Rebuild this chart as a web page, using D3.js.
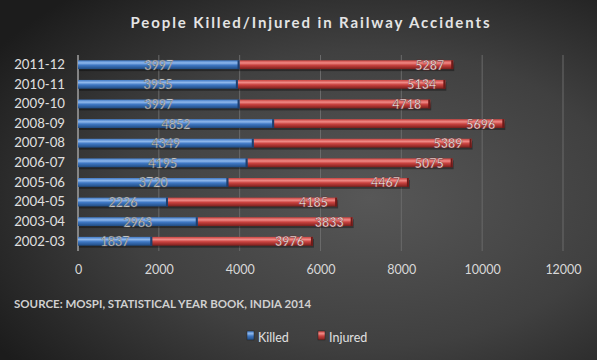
<!DOCTYPE html>
<html><head><meta charset="utf-8">
<script src="https://cdn.jsdelivr.net/npm/d3@7"></script>
<style>html,body{margin:0;padding:0;background:#333;}svg{display:block;}</style>
</head><body>
<script>
const categories = ["2002-03","2003-04","2004-05","2005-06","2006-07","2007-08","2008-09","2009-10","2010-11","2011-12"];
const killed = [1837,2963,2226,3720,4195,4349,4852,3997,3955,3997];
const injured = [3976,3833,4185,4467,5075,5389,5696,4718,5134,5287];
const xTicks = [0,2000,4000,6000,8000,10000,12000];
const seriesNames = ["Killed","Injured"];

const W=597,H=360;
const svg=d3.select("body").append("svg").attr("width",W).attr("height",H);
const defs=svg.append("defs");
const bg=defs.append("radialGradient").attr("id","bg").attr("cx","0.62").attr("cy","0.55").attr("r","0.75");
bg.append("stop").attr("offset","0").attr("stop-color","#575757");
bg.append("stop").attr("offset","0.55").attr("stop-color","#404040");
bg.append("stop").attr("offset","1").attr("stop-color","#1c1c1c");
svg.append("rect").attr("width",W).attr("height",H).attr("fill","url(#bg)");

function cyl(id,dark,mid,light){
  const g=defs.append("linearGradient").attr("id",id).attr("x1",0).attr("y1",0).attr("x2",0).attr("y2",1);
  g.append("stop").attr("offset","0").attr("stop-color",mid);
  g.append("stop").attr("offset","0.3").attr("stop-color",light);
  g.append("stop").attr("offset","0.55").attr("stop-color",mid);
  g.append("stop").attr("offset","1").attr("stop-color",dark);
}
cyl("gk","#1f4a80","#3f78c4","#8fb8ec");
cyl("gi","#7a1f1c","#c9423f","#f08a86");

const x=d3.scaleLinear().domain([0,12000]).range([78,563]);
const y=d3.scaleBand().domain(categories.slice().reverse()).range([55,251]).paddingInner(0.55).paddingOuter(0.27);

svg.append("g").selectAll("line").data(xTicks.slice(1)).join("line")
  .attr("x1",d=>x(d)).attr("x2",d=>x(d)).attr("y1",55).attr("y2",251)
  .attr("stroke","#6a6a6a").attr("stroke-width",1);
svg.append("line").attr("x1",x(0)).attr("x2",x(0)).attr("y1",55).attr("y2",251).attr("stroke","#a0a0a0").attr("stroke-width",1.5);

const font="Lato, 'Open Sans', sans-serif";
const xAxis=d3.axisBottom(x).tickValues(xTicks).tickSize(0).tickFormat(d3.format("d"));
const gx=svg.append("g").attr("transform","translate(0,260)").call(xAxis);
gx.select(".domain").remove();
gx.selectAll("text").attr("fill","#d8d8d8").attr("font-family",font).attr("font-size",12.5).attr("dy","0.9em");

const yAxis=d3.axisLeft(y).tickSize(0).tickPadding(13);
const gy=svg.append("g").attr("transform",`translate(${x(0)},0)`).call(yAxis);
gy.select(".domain").remove();
gy.selectAll("text").attr("fill","#e0e0e0").attr("font-family",font).attr("font-size",13.2);

const rows=categories.map((c,i)=>({c,k:killed[i],inj:injured[i]}));
const bh=y.bandwidth();
const g=svg.append("g");
g.selectAll("rect.sh").data(rows).join("rect").attr("class","sh")
  .attr("x",x(0)+1).attr("y",d=>y(d.c)+2).attr("width",d=>x(d.k+d.inj)-x(0)).attr("height",bh)
  .attr("fill","#000").attr("opacity",0.35);
g.selectAll("rect.k").data(rows).join("rect").attr("class","k")
  .attr("x",x(0)).attr("y",d=>y(d.c)).attr("width",d=>x(d.k)-x(0)).attr("height",bh)
  .attr("fill","url(#gk)");
g.selectAll("rect.i").data(rows).join("rect").attr("class","i")
  .attr("x",d=>x(d.k)).attr("y",d=>y(d.c)).attr("width",d=>x(d.k+d.inj)-x(d.k)).attr("height",bh)
  .attr("fill","url(#gi)");
g.selectAll("rect.ck").data(rows).join("rect").attr("class","ck")
  .attr("x",d=>x(d.k)-2).attr("y",d=>y(d.c)).attr("width",2).attr("height",bh).attr("fill","#1d3f6e");
g.selectAll("rect.ci").data(rows).join("rect").attr("class","ci")
  .attr("x",d=>x(d.k+d.inj)-2).attr("y",d=>y(d.c)).attr("width",2).attr("height",bh).attr("fill","#6e1a18");

g.selectAll("text.lk").data(rows).join("text").attr("class","lk")
  .attr("x",d=>(x(0)+x(d.k))/2).attr("y",d=>y(d.c)+bh/2).attr("dy","0.4em")
  .attr("text-anchor","middle").attr("font-family",font).attr("font-size",12.5)
  .attr("fill","#e8e8e8").attr("stroke","#555").attr("stroke-width",0.4).text(d=>d.k);
g.selectAll("text.li").data(rows).join("text").attr("class","li")
  .attr("x",d=>x(d.k+d.inj)-9).attr("y",d=>y(d.c)+bh/2).attr("dy","0.4em")
  .attr("text-anchor","end").attr("font-family",font).attr("font-size",12.5).attr("font-weight","bold")
  .attr("fill","#f0e0e0").attr("stroke","#6a2020").attr("stroke-width",0.4).text(d=>d.inj);

svg.append("text").attr("x",311).attr("y",28).attr("text-anchor","middle")
  .attr("font-family",font).attr("font-weight","bold").attr("font-size",15).attr("letter-spacing","1.9px")
  .attr("fill","#e4e4e4").text("People Killed/Injured in Railway Accidents");
svg.append("text").attr("x",14).attr("y",308)
  .attr("font-family",font).attr("font-weight","bold").attr("font-size",11.5)
  .attr("fill","#d0d0d0").text("SOURCE: MOSPI, STATISTICAL YEAR BOOK, INDIA 2014");

const leg=svg.append("g").attr("transform","translate(247,337)");
const lx=[0,71];
const lcol=["url(#gk)","url(#gi)"];
seriesNames.forEach((n,i)=>{
  leg.append("rect").attr("x",lx[i]).attr("y",-6).attr("width",7).attr("height",9).attr("fill",lcol[i]).attr("stroke","#222").attr("stroke-width",0.5);
  leg.append("text").attr("x",lx[i]+11).attr("y",0).attr("dy","0.38em").attr("font-family",font)
    .attr("font-size",12.5).attr("fill","#e0e0e0").text(n);
});
</script>
</body></html>
